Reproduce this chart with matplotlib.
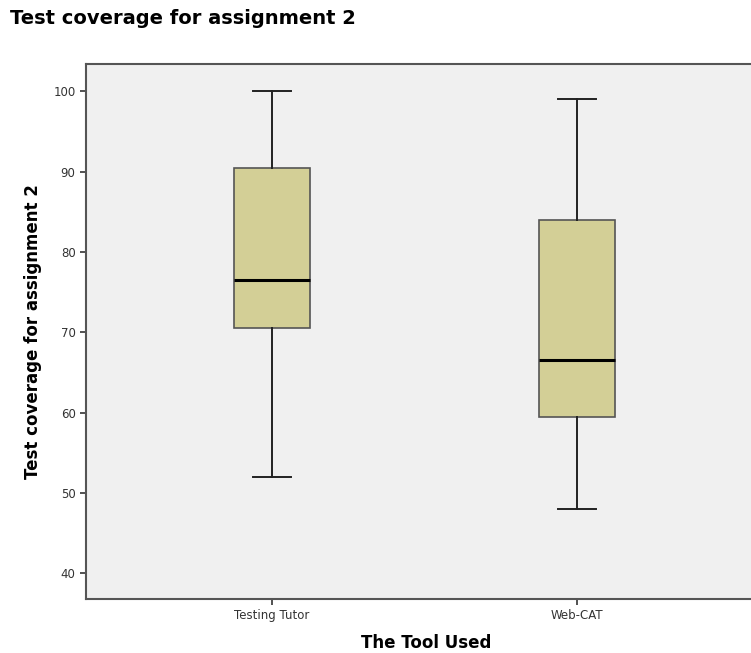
import matplotlib
matplotlib.use('Agg')
import matplotlib.pyplot as plt

# summary values
tools = ['Testing Tutor', 'Web-CAT']
whislo = [52, 48]
q1 = [70.5, 59.5]
med = [76.5, 66.5]
q3 = [90.5, 84]
whishi = [100, 99]

stats = []
for i in range(len(tools)):
    stats.append({'label': tools[i], 'whislo': whislo[i], 'q1': q1[i], 'med': med[i],
                  'q3': q3[i], 'whishi': whishi[i], 'fliers': []})

fig = plt.figure(figsize=(7.51, 6.53), dpi=100)
ax = fig.add_axes([86/751, 1 - 599/653, 680/751, (599 - 64)/653])
ax.set_facecolor('#f0f0f0')

ax.bxp(stats, positions=[0, 1], widths=0.25, patch_artist=True, showfliers=False,
       boxprops={'facecolor': '#d3cf96', 'edgecolor': '#555555', 'linewidth': 1.2},
       medianprops={'color': 'black', 'linewidth': 2.2},
       whiskerprops={'color': '#222222', 'linewidth': 1.4},
       capprops={'color': '#222222', 'linewidth': 1.4},
       capwidths=0.125)

ax.set_xlim(-0.61, 1.62)
ax.set_ylim(36.8, 103.4)
ax.set_yticks([40, 50, 60, 70, 80, 90, 100])
ax.set_xticks([0, 1])
ax.set_xticklabels(tools)
ax.tick_params(axis='both', labelsize=8.5, colors='#333333', length=4, width=1.2)
for s in ['top', 'right', 'bottom', 'left']:
    ax.spines[s].set_color('#555555')
    ax.spines[s].set_linewidth(1.5)

ax.set_ylabel('Test coverage for assignment 2', fontsize=12, fontweight='bold', labelpad=8)
ax.set_xlabel('The Tool Used', fontsize=12, fontweight='bold', labelpad=8)
fig.text(10/751, 1 - 18/653, 'Test coverage for assignment 2', fontsize=14, fontweight='bold',
         va='center', ha='left')

fig.savefig('out.png', dpi=100)
